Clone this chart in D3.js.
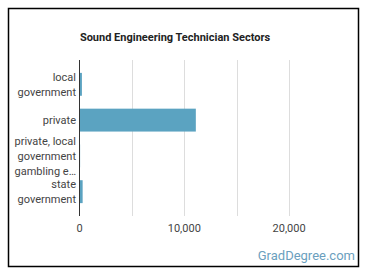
<!DOCTYPE html>
<html>
<head>
<meta charset="utf-8">
<script src="https://cdn.jsdelivr.net/npm/d3@7"></script>
<style>
  body { margin: 0; background: #fff; }
  svg { display: block; font-family: Roboto, "Open Sans", sans-serif; }
</style>
</head>
<body>
<svg id="chart"></svg>
<script>
// data
const categories = [
    ["local", "government"],
    ["private"],
    ["private, local", "government", "gambling e\u2026"],
    ["state", "government"]
];
const values = [230, 11100, 40, 300];
const xTicks = [0, 10000, 20000];
const gridTicks = [5000, 10000, 15000, 20000];

const W = 370, H = 278;
const svg = d3.select("#chart").attr("width", W).attr("height", H);

// frame
svg.append("rect")
    .attr("x", 8.5).attr("y", 8.5)
    .attr("width", 350).attr("height", 258)
    .attr("fill", "none").attr("stroke", "#000").attr("stroke-width", 1.5);

svg.append("text")
    .attr("x", 175).attr("y", 41)
    .attr("text-anchor", "middle")
    .style("font-size", "11px").style("font-weight", "bold")
    .attr("fill", "#222")
    .text("Sound Engineering Technician Sectors");

const x = d3.scaleLinear().domain([0, 25000]).range([79.5, 341.5]);
const y = d3.scaleBand().domain(d3.range(categories.length)).range([60, 216]).padding(0.36);
const plotTop = 60, plotBottom = 216;

// gridlines
svg.append("g").selectAll("line")
    .data(gridTicks)
    .join("line")
    .attr("x1", d => Math.round(x(d)) + 0.5).attr("x2", d => Math.round(x(d)) + 0.5)
    .attr("y1", plotTop).attr("y2", plotBottom)
    .attr("stroke", "#ddd");

// bars
svg.append("g").selectAll("rect")
    .data(values)
    .join("rect")
    .attr("x", x(0))
    .attr("y", (d, i) => y(i))
    .attr("width", d => Math.max(0.6, x(d) - x(0)))
    .attr("height", y.bandwidth())
    .attr("fill", "#5ba3c1");

// zero baseline
svg.append("line")
    .attr("x1", 79.5).attr("x2", 79.5)
    .attr("y1", plotTop).attr("y2", plotBottom)
    .attr("stroke", "#333");

// category labels
const lineH = 15;
svg.append("g").selectAll("text")
    .data(categories)
    .join("text")
    .attr("text-anchor", "end")
    .attr("fill", "#444")
    .style("font-size", "11px")
    .each(function(lines, i) {
        const cy = y(i) + y.bandwidth() / 2;
        const y0 = cy - (lines.length - 1) * lineH / 2;
        d3.select(this).selectAll("tspan")
            .data(lines)
            .join("tspan")
            .attr("x", 76)
            .attr("y", (d, j) => y0 + j * lineH)
            .attr("dy", "0.35em")
            .text(d => d);
    });

// x tick labels
svg.append("g").selectAll("text")
    .data(xTicks)
    .join("text")
    .attr("x", d => x(d))
    .attr("y", 228)
    .attr("dy", "0.35em")
    .attr("text-anchor", "middle")
    .attr("fill", "#444")
    .style("font-size", "11px")
    .text(d => d3.format(",")(d));

svg.append("text")
    .attr("x", 355).attr("y", 255)
    .attr("dy", "0.35em")
    .attr("text-anchor", "end")
    .attr("fill", "#6b9fbe")
    .style("font-size", "13px")
    .text("GradDegree.com");
</script>
</body>
</html>
